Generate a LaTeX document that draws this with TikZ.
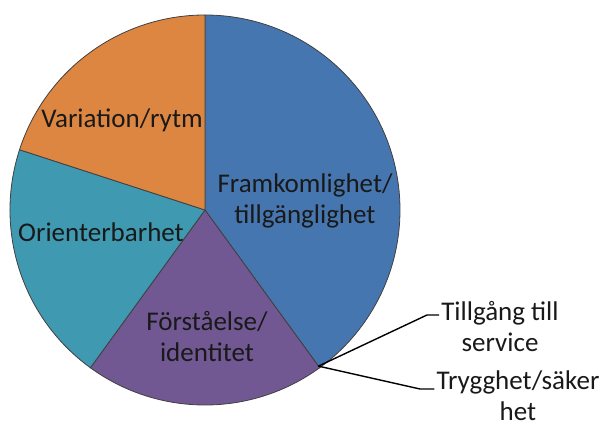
\documentclass[tikz,border=0pt]{standalone}
\usepackage{fontspec}
\setmainfont{Carlito}
\definecolor{pieblue}{HTML}{4676AF}
\definecolor{pieorange}{HTML}{DD8642}
\definecolor{pieteal}{HTML}{3E99B1}
\definecolor{piepurple}{HTML}{715892}
\tikzset{
    slice/.style={draw=black!75,line width=0.8pt},
    slicetext/.style={font=\fontsize{27}{31}\selectfont,align=center,text=black!90,inner xsep=2pt,inner ysep=0pt},
    leader/.style={line width=1.4pt,black}
}
\begin{document}
\begin{tikzpicture}[x=1pt,y=1pt]
    % Rahmen
    \useasboundingbox (-205,-215) rectangle (397,210);

    % Sektoren
    \filldraw[slice,fill=pieblue] (0,0) -- (90:195) arc (90:-54:195) -- cycle;
    \filldraw[slice,fill=piepurple] (0,0) -- (-54:195) arc (-54:-126:195) -- cycle;
    \filldraw[slice,fill=pieteal] (0,0) -- (-126:195) arc (-126:-198:195) -- cycle;
    \filldraw[slice,fill=pieorange] (0,0) -- (162:195) arc (162:90:195) -- cycle;

    % Beschriftungen
    \node[slicetext] (framkom) at (100,9) {Framkomlighet/\\tillgänglighet};
    \node[slicetext] (forstaelse) at (2,-127) {Förståelse/\\identitet};
    \node[slicetext] (orient) at (-104,-22) {Orienterbarhet};
    \node[slicetext] (variation) at (-83,90) {Variation/rytm};

    % kleine Sektoren mit Zuleitungen
    \coordinate (tip) at (-54:193);
    \coordinate (knickA) at (222,-105);
    \coordinate (knickB) at (215,-179);
    \node[slicetext] (service) at (295,-117) {Tillgång till\\service};
    \node[slicetext] (trygg) at (313,-186) {Trygghet/säker\\het};
    \draw[leader] (tip) -- (knickA) -- (knickA -| service.west);
    \draw[leader] (tip) -- (knickB) -- (knickB -| trygg.west);
\end{tikzpicture}
\end{document}
